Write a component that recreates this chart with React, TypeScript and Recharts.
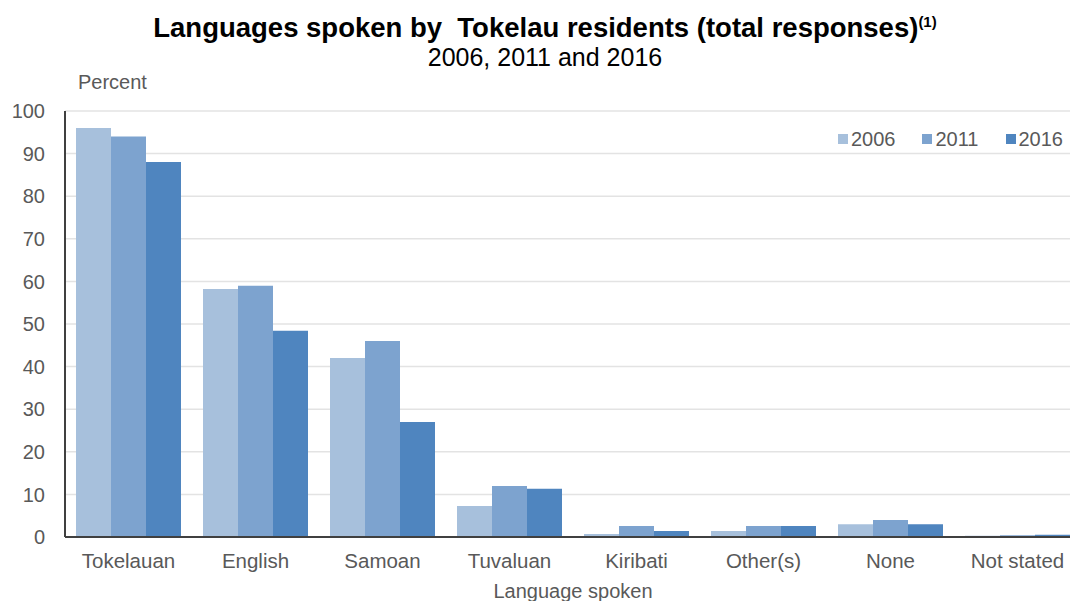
import { BarChart, Bar, XAxis, YAxis, CartesianGrid, Legend } from 'recharts';

const categories = ['Tokelauan', 'English', 'Samoan', 'Tuvaluan', 'Kiribati', 'Other(s)', 'None', 'Not stated'];
const values2006 = [96, 58.2, 42, 7.3, 0.7, 1.4, 3, 0.3];
const values2011 = [94, 59, 46, 12, 2.6, 2.6, 4, 0.4];
const values2016 = [88, 48.4, 27, 11.3, 1.4, 2.6, 3, 0.5];
const yTicks = [0, 10, 20, 30, 40, 50, 60, 70, 80, 90, 100];

const series = [
  { key: 'y2006', name: '2006', color: '#a7c0dc' },
  { key: 'y2011', name: '2011', color: '#7da3cf' },
  { key: 'y2016', name: '2016', color: '#4f85bf' },
];

const data = categories.map((c, i) => ({
  language: c,
  y2006: values2006[i],
  y2011: values2011[i],
  y2016: values2016[i],
}));

const font = '"Liberation Sans", Arial, sans-serif';

// 图例：右上角的小方块
const CustomLegend = () => (
  <div style={{ display: 'flex', gap: 27, fontFamily: font, fontSize: 20, color: '#595959', lineHeight: '22px' }}>
    {series.map((s) => (
      <div key={s.key} style={{ display: 'flex', alignItems: 'center', gap: 3 }}>
        <span style={{ width: 10, height: 10, background: s.color, display: 'inline-block' }} />
        <span>{s.name}</span>
      </div>
    ))}
  </div>
);

export default function App() {
  return (
    <div style={{ position: 'absolute', left: 0, top: 0, width: 1070, height: 601, overflow: 'hidden', background: '#fff' }}>
      <div style={{ position: 'absolute', left: 0, width: 1090, top: 12, textAlign: 'center', fontFamily: font, fontWeight: 'bold', fontSize: 27.5, color: '#000', whiteSpace: 'nowrap' }}>
        Languages spoken by&nbsp; Tokelau residents (total responses)
        <sup style={{ fontSize: 15 }}>(1)</sup>
      </div>
      <div style={{ position: 'absolute', left: 0, width: 1090, top: 43, textAlign: 'center', fontFamily: font, fontSize: 25, color: '#000' }}>
        2006, 2011 and 2016
      </div>
      <div style={{ position: 'absolute', left: 78, top: 71, fontFamily: font, fontSize: 20, color: '#595959' }}>
        Percent
      </div>
      <div style={{ position: 'absolute', left: 0, width: 1146, top: 580, textAlign: 'center', fontFamily: font, fontSize: 20, color: '#595959' }}>
        Language spoken
      </div>
      <BarChart
        width={1090}
        height={601}
        data={data}
        margin={{ top: 89, right: 9, left: 0, bottom: 24 }}
        barCategoryGap={11}
        barGap={0}
      >
        <CartesianGrid vertical={false} stroke="#e3e3e3" strokeWidth={1.5} />
        <XAxis
          dataKey="language"
          height={40}
          tickLine={false}
          axisLine={{ stroke: '#404040', strokeWidth: 2 }}
          tick={{ fontSize: 20.5, fill: '#595959', fontFamily: font }}
          tickMargin={10}
          interval={0}
        />
        <YAxis
          width={65}
          domain={[0, 100]}
          ticks={yTicks}
          tickLine={false}
          axisLine={{ stroke: '#404040', strokeWidth: 2 }}
          tick={{ fontSize: 20, fill: '#595959', fontFamily: font }}
          tickMargin={14}
        />
        <Legend
          verticalAlign="top"
          align="right"
          content={<CustomLegend />}
          wrapperStyle={{ top: 128, right: 27, width: 'auto', left: 'auto', height: 22 }}
        />
        {series.map((s) => (
          <Bar key={s.key} dataKey={s.key} name={s.name} fill={s.color} isAnimationActive={false} />
        ))}
      </BarChart>
    </div>
  );
}
